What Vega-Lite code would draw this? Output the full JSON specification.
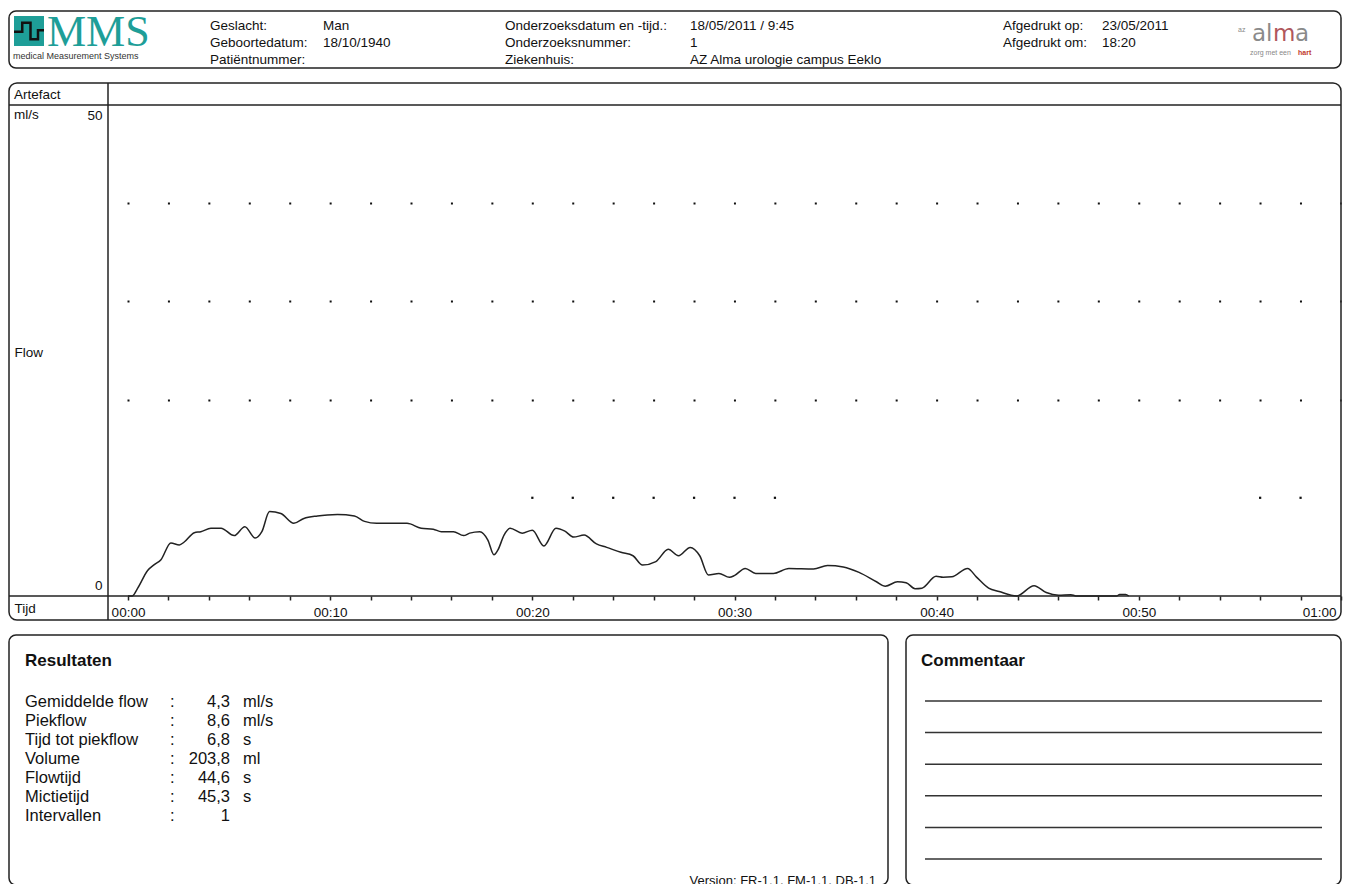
{
  "$schema": "https://vega.github.io/schema/vega-lite/v6.json",
  "padding": {"left": 7, "top": 10, "right": 0, "bottom": 0},
  "background": "white",
  "spacing": 12,
  "config": {
    "font": "Liberation Sans",
    "view": {"stroke": "#222", "strokeWidth": 1.5, "cornerRadius": 7},
    "axis": {"labelColor": "#111", "titleColor": "#111", "labelFontSize": 13.5, "titleFontSize": 13.5, "titleFontWeight": "normal"},
    "text": {"color": "#111"}
  },
  "datasets": {
    "hdr": [
      {"block": "pat", "line": 1, "label": "Geslacht:", "value": "Man"},
      {"block": "pat", "line": 2, "label": "Geboortedatum:", "value": "18/10/1940"},
      {"block": "pat", "line": 3, "label": "Patiëntnummer:", "value": ""},
      {"block": "exam", "line": 1, "label": "Onderzoeksdatum en -tijd.:", "value": "18/05/2011 / 9:45"},
      {"block": "exam", "line": 2, "label": "Onderzoeksnummer:", "value": "1"},
      {"block": "exam", "line": 3, "label": "Ziekenhuis:", "value": "AZ Alma urologie campus Eeklo"},
      {"block": "print", "line": 1, "label": "Afgedrukt op:", "value": "23/05/2011"},
      {"block": "print", "line": 2, "label": "Afgedrukt om:", "value": "18:20"}
    ],
    "flow": [
      {"t": 0, "f": 0}, {"t": 0.2, "f": 0}, {"t": 0.48, "f": 0.8}, {"t": 0.97, "f": 2.6}, {"t": 1.3, "f": 3.2},
      {"t": 1.63, "f": 3.7}, {"t": 2.12, "f": 5.4}, {"t": 2.54, "f": 5.2}, {"t": 2.78, "f": 5.5}, {"t": 3.28, "f": 6.45},
      {"t": 3.6, "f": 6.55}, {"t": 4.1, "f": 6.9}, {"t": 4.6, "f": 6.9}, {"t": 5.25, "f": 6.15}, {"t": 5.78, "f": 7.05},
      {"t": 6.29, "f": 5.9}, {"t": 6.62, "f": 6.55}, {"t": 7.0, "f": 8.6}, {"t": 7.56, "f": 8.4}, {"t": 8.2, "f": 7.4},
      {"t": 8.7, "f": 7.9}, {"t": 9.37, "f": 8.15}, {"t": 9.86, "f": 8.25}, {"t": 10.36, "f": 8.3}, {"t": 11.2, "f": 8.15},
      {"t": 11.7, "f": 7.6}, {"t": 12.3, "f": 7.4}, {"t": 13.8, "f": 7.4}, {"t": 14.5, "f": 6.9}, {"t": 15.1, "f": 6.8},
      {"t": 15.5, "f": 6.55}, {"t": 16.1, "f": 6.55}, {"t": 16.6, "f": 6.15}, {"t": 16.9, "f": 6.4}, {"t": 17.4, "f": 6.55},
      {"t": 17.8, "f": 5.7}, {"t": 18.1, "f": 4.2}, {"t": 18.3, "f": 4.7}, {"t": 18.6, "f": 6.2}, {"t": 18.9, "f": 6.9},
      {"t": 19.5, "f": 6.4}, {"t": 20.0, "f": 6.7}, {"t": 20.57, "f": 5.1}, {"t": 21.17, "f": 6.9}, {"t": 21.61, "f": 6.6},
      {"t": 22.04, "f": 6.0}, {"t": 22.56, "f": 6.2}, {"t": 23.17, "f": 5.3}, {"t": 23.68, "f": 4.95}, {"t": 24.38, "f": 4.45},
      {"t": 24.98, "f": 4.1}, {"t": 25.45, "f": 3.15}, {"t": 26.11, "f": 3.5}, {"t": 26.72, "f": 4.75}, {"t": 27.23, "f": 4.1},
      {"t": 27.81, "f": 4.95}, {"t": 28.28, "f": 4.1}, {"t": 28.71, "f": 2.15}, {"t": 29.23, "f": 2.3}, {"t": 29.75, "f": 1.9},
      {"t": 30.01, "f": 2.1}, {"t": 30.53, "f": 2.8}, {"t": 31.05, "f": 2.3}, {"t": 31.92, "f": 2.3}, {"t": 32.69, "f": 2.8},
      {"t": 33.91, "f": 2.75}, {"t": 34.6, "f": 3.1}, {"t": 35.38, "f": 2.95}, {"t": 36.16, "f": 2.4}, {"t": 37.02, "f": 1.45},
      {"t": 37.46, "f": 1.0}, {"t": 38.06, "f": 1.45}, {"t": 38.49, "f": 1.35}, {"t": 38.93, "f": 0.75}, {"t": 39.27, "f": 0.8},
      {"t": 39.97, "f": 2.0}, {"t": 40.32, "f": 1.9}, {"t": 40.75, "f": 1.95}, {"t": 41.53, "f": 2.8}, {"t": 41.96, "f": 1.95},
      {"t": 42.57, "f": 0.8}, {"t": 43.09, "f": 0.45}, {"t": 43.95, "f": 0.0}, {"t": 44.82, "f": 1.05}, {"t": 45.42, "f": 0.35},
      {"t": 46.03, "f": 0.08}, {"t": 46.64, "f": 0.14}, {"t": 46.89, "f": 0}, {"t": 48.9, "f": 0}, {"t": 49.05, "f": 0.15},
      {"t": 49.35, "f": 0.15}, {"t": 49.5, "f": 0}
    ],
    "dots10": [
      {"t": 20, "f": 10}, {"t": 22, "f": 10}, {"t": 24, "f": 10}, {"t": 26, "f": 10}, {"t": 28, "f": 10},
      {"t": 30, "f": 10}, {"t": 32, "f": 10}, {"t": 56, "f": 10}, {"t": 58, "f": 10}
    ],
    "res": [
      {"row": 1, "label": "Gemiddelde flow", "value": "4,3", "unit": "ml/s"},
      {"row": 2, "label": "Piekflow", "value": "8,6", "unit": "ml/s"},
      {"row": 3, "label": "Tijd tot piekflow", "value": "6,8", "unit": "s"},
      {"row": 4, "label": "Volume", "value": "203,8", "unit": "ml"},
      {"row": 5, "label": "Flowtijd", "value": "44,6", "unit": "s"},
      {"row": 6, "label": "Mictietijd", "value": "45,3", "unit": "s"},
      {"row": 7, "label": "Intervallen", "value": "1", "unit": ""}
    ],
    "lines": [{"line": 1}, {"line": 2}, {"line": 3}, {"line": 4}, {"line": 5}, {"line": 6}]
  },
  "vconcat": [
    {
      "width": 1332,
      "height": 57,
      "data": {"name": "hdr"},
      "layer": [
        {"transform": [{"filter": "datum.block === 'pat'"}], "mark": {"type": "text", "align": "left", "baseline": "middle", "fontSize": 13.5},
         "encoding": {"x": {"datum": 201, "type": "quantitative", "scale": {"domain": [0, 1332], "range": [0, 1332], "nice": false, "zero": false}, "axis": null},
                      "y": {"field": "line", "type": "quantitative", "scale": {"domain": [1, 3], "range": [15, 49], "nice": false, "zero": false}, "axis": null},
                      "text": {"field": "label"}}},
        {"transform": [{"filter": "datum.block === 'pat'"}], "mark": {"type": "text", "align": "left", "baseline": "middle", "fontSize": 13.5},
         "encoding": {"x": {"datum": 314, "type": "quantitative"}, "y": {"field": "line", "type": "quantitative"}, "text": {"field": "value"}}},
        {"transform": [{"filter": "datum.block === 'exam'"}], "mark": {"type": "text", "align": "left", "baseline": "middle", "fontSize": 13.5},
         "encoding": {"x": {"datum": 496, "type": "quantitative"}, "y": {"field": "line", "type": "quantitative"}, "text": {"field": "label"}}},
        {"transform": [{"filter": "datum.block === 'exam'"}], "mark": {"type": "text", "align": "left", "baseline": "middle", "fontSize": 13.5},
         "encoding": {"x": {"datum": 681, "type": "quantitative"}, "y": {"field": "line", "type": "quantitative"}, "text": {"field": "value"}}},
        {"transform": [{"filter": "datum.block === 'print'"}], "mark": {"type": "text", "align": "left", "baseline": "middle", "fontSize": 13.5},
         "encoding": {"x": {"datum": 994, "type": "quantitative"}, "y": {"field": "line", "type": "quantitative"}, "text": {"field": "label"}}},
        {"transform": [{"filter": "datum.block === 'print'"}], "mark": {"type": "text", "align": "left", "baseline": "middle", "fontSize": 13.5},
         "encoding": {"x": {"datum": 1093, "type": "quantitative"}, "y": {"field": "line", "type": "quantitative"}, "text": {"field": "value"}}},
        {"data": {"values": [{"brand": "MMS"}]}, "mark": {"type": "point", "shape": "square", "filled": true, "color": "#1e9e98", "opacity": 1, "size": 900},
         "encoding": {"x": {"datum": 20, "type": "quantitative"}, "y": {"datum": 1.294, "type": "quantitative"}}},
        {"data": {"values": [{"brand": "MMS"}]}, "mark": {"type": "point", "shape": "M-1,0.05L-0.45,0.05L-0.45,-0.55L0.1,-0.55L0.1,0.55L0.6,0.55L0.6,-0.05L1,-0.05", "filled": false, "color": "#111", "strokeWidth": 2.5, "opacity": 1, "size": 900},
         "encoding": {"x": {"datum": 20, "type": "quantitative"}, "y": {"datum": 1.294, "type": "quantitative"}}},
        {"data": {"values": [{"brand": "MMS"}]}, "mark": {"type": "text", "align": "left", "baseline": "alphabetic", "font": "Liberation Serif", "fontSize": 44, "color": "#1e9e98"},
         "encoding": {"x": {"datum": 38, "type": "quantitative"}, "y": {"datum": 2.176, "type": "quantitative"}, "text": {"field": "brand"}}},
        {"data": {"values": [{"sub": "medical Measurement Systems"}]}, "mark": {"type": "text", "align": "left", "baseline": "middle", "fontSize": 9, "color": "#333"},
         "encoding": {"x": {"datum": 4, "type": "quantitative"}, "y": {"datum": 2.765, "type": "quantitative"}, "text": {"field": "sub"}}},
        {"data": {"values": [{"w": "az"}]}, "mark": {"type": "text", "align": "left", "baseline": "middle", "fontSize": 7, "color": "#888"},
         "encoding": {"x": {"datum": 1229, "type": "quantitative"}, "y": {"datum": 1.235, "type": "quantitative"}, "text": {"field": "w"}}},
        {"data": {"values": [{"w": "al"}]}, "mark": {"type": "text", "align": "left", "baseline": "alphabetic", "font": "DejaVu Sans", "fontSize": 23, "color": "#8a8a8a"},
         "encoding": {"x": {"datum": 1243, "type": "quantitative"}, "y": {"datum": 1.882, "type": "quantitative"}, "text": {"field": "w"}}},
        {"data": {"values": [{"w": "m"}]}, "mark": {"type": "text", "align": "left", "baseline": "alphabetic", "font": "DejaVu Sans", "fontSize": 23, "color": "#b0575c"},
         "encoding": {"x": {"datum": 1264, "type": "quantitative"}, "y": {"datum": 1.882, "type": "quantitative"}, "text": {"field": "w"}}},
        {"data": {"values": [{"w": "a"}]}, "mark": {"type": "text", "align": "left", "baseline": "alphabetic", "font": "DejaVu Sans", "fontSize": 23, "color": "#8a8a8a"},
         "encoding": {"x": {"datum": 1286, "type": "quantitative"}, "y": {"datum": 1.882, "type": "quantitative"}, "text": {"field": "w"}}},
        {"data": {"values": [{"w": "zorg met een"}]}, "mark": {"type": "text", "align": "left", "baseline": "middle", "fontSize": 7, "color": "#888"},
         "encoding": {"x": {"datum": 1241, "type": "quantitative"}, "y": {"datum": 2.588, "type": "quantitative"}, "text": {"field": "w"}}},
        {"data": {"values": [{"w": "hart"}]}, "mark": {"type": "text", "align": "left", "baseline": "middle", "fontSize": 7, "fontWeight": "bold", "color": "#c0392b"},
         "encoding": {"x": {"datum": 1289, "type": "quantitative"}, "y": {"datum": 2.588, "type": "quantitative"}, "text": {"field": "w"}}}
      ]
    },
    {
      "width": 1332,
      "height": 537,
      "view": {"stroke": "#222", "strokeWidth": 1.5, "cornerRadius": 8},
      "layer": [
        {"data": {"name": "flow"}, "mark": {"type": "line", "color": "#222", "strokeWidth": 1.5, "interpolate": "monotone"},
         "encoding": {
           "x": {"field": "t", "type": "quantitative",
                 "scale": {"domain": [-0.99, 60], "range": [99, 1332], "nice": false, "zero": false},
                 "axis": {"orient": "bottom", "offset": -24, "domain": false,
                          "values": [0, 2, 4, 6, 8, 10, 12, 14, 16, 18, 20, 22, 24, 26, 28, 30, 32, 34, 36, 38, 40, 42, 44, 46, 48, 50, 52, 54, 56, 58, 60],
                          "labelExpr": "datum.value % 10 === 0 ? ((datum.value >= 60 ? '01' : '00') + ':' + (datum.value % 60 === 0 ? '00' : datum.value % 60)) : ''",
                          "labelFlush": true, "labelFlushOffset": -5, "labelOverlap": false, "tickSize": 4, "tickColor": "#222", "tickWidth": 1.5, "labelPadding": 5,
                          "grid": false, "title": "Tijd", "titleX": 5, "titleY": 12, "titleAlign": "left", "titleBaseline": "middle", "titleAngle": 0}},
           "y": {"field": "f", "type": "quantitative",
                 "scale": {"domain": [0, 50], "range": [513, 22], "nice": false, "zero": false},
                 "axis": {"orient": "left", "offset": -99, "domain": false, "ticks": false,
                          "values": [0, 20, 30, 40, 50],
                          "labelExpr": "datum.value === 0 || datum.value === 50 ? datum.label : ''",
                          "labelFlush": true, "labelFlushOffset": -3.5, "labelOverlap": false, "labelPadding": 6,
                          "grid": true, "gridColor": "#111", "gridWidth": 2, "gridDash": [2, 38.43], "gridDashOffset": 21.43,
                          "gridOpacity": {"condition": {"test": "datum.value === 0 || datum.value === 50", "value": 0}, "value": 1},
                          "title": "Flow", "titleAngle": 0, "titleX": -94, "titleY": 269, "titleAlign": "left", "titleBaseline": "middle"}}
         }},
        {"data": {"name": "dots10"}, "mark": {"type": "square", "color": "#111", "size": 5, "opacity": 1},
         "encoding": {"x": {"field": "t", "type": "quantitative"}, "y": {"field": "f", "type": "quantitative"}}},
        {"data": {"values": [{"sep": "left"}]}, "mark": {"type": "rule", "color": "#222", "strokeWidth": 1.5},
         "encoding": {"x": {"datum": -0.99, "type": "quantitative"}}},
        {"data": {"values": [{"sep": "bottom"}]}, "mark": {"type": "rule", "color": "#222", "strokeWidth": 1.5},
         "encoding": {"y": {"datum": 0, "type": "quantitative"}}},
        {"data": {"values": [{"sep": "top"}]}, "mark": {"type": "rule", "color": "#222", "strokeWidth": 1.5},
         "encoding": {"y": {"datum": 50, "type": "quantitative"}}},
        {"data": {"values": [{"lab": "Artefact"}]}, "mark": {"type": "text", "align": "left", "baseline": "middle", "fontSize": 13.5},
         "encoding": {"x": {"datum": -5.64, "type": "quantitative"}, "y": {"datum": 51.02, "type": "quantitative"}, "text": {"field": "lab"}}},
        {"data": {"values": [{"lab": "ml/s"}]}, "mark": {"type": "text", "align": "left", "baseline": "middle", "fontSize": 13.5},
         "encoding": {"x": {"datum": -5.64, "type": "quantitative"}, "y": {"datum": 48.98, "type": "quantitative"}, "text": {"field": "lab"}}}
      ]
    },
    {
      "spacing": 16,
      "hconcat": [
        {
          "width": 879,
          "height": 250,
          "data": {"name": "res"},
          "layer": [
            {"mark": {"type": "text", "align": "left", "baseline": "middle", "fontSize": 16.5},
             "encoding": {"x": {"datum": 16, "type": "quantitative", "scale": {"domain": [0, 879], "range": [0, 879], "nice": false, "zero": false}, "axis": null},
                          "y": {"field": "row", "type": "quantitative", "scale": {"domain": [1, 7], "range": [67, 181], "nice": false, "zero": false}, "axis": null},
                          "text": {"field": "label"}}},
            {"mark": {"type": "text", "align": "left", "baseline": "middle", "fontSize": 16.5},
             "encoding": {"x": {"datum": 161, "type": "quantitative"}, "y": {"field": "row", "type": "quantitative"}, "text": {"value": ":"}}},
            {"mark": {"type": "text", "align": "right", "baseline": "middle", "fontSize": 16.5},
             "encoding": {"x": {"datum": 221, "type": "quantitative"}, "y": {"field": "row", "type": "quantitative"}, "text": {"field": "value"}}},
            {"mark": {"type": "text", "align": "left", "baseline": "middle", "fontSize": 16.5},
             "encoding": {"x": {"datum": 234, "type": "quantitative"}, "y": {"field": "row", "type": "quantitative"}, "text": {"field": "unit"}}},
            {"data": {"values": [{"h": "Resultaten"}]}, "mark": {"type": "text", "align": "left", "baseline": "middle", "fontSize": 17, "fontWeight": "bold"},
             "encoding": {"x": {"datum": 16, "type": "quantitative"}, "y": {"datum": -1.158, "type": "quantitative"}, "text": {"field": "h"}}},
            {"data": {"values": [{"v": "Version: FR-1.1, FM-1.1, DB-1.1"}]}, "mark": {"type": "text", "align": "right", "baseline": "middle", "fontSize": 13},
             "encoding": {"x": {"datum": 867, "type": "quantitative"}, "y": {"datum": 10.42, "type": "quantitative"}, "text": {"field": "v"}}}
          ]
        },
        {
          "width": 435,
          "height": 250,
          "data": {"name": "lines"},
          "layer": [
            {"mark": {"type": "rule", "color": "#333", "strokeWidth": 1.5},
             "encoding": {"y": {"field": "line", "type": "quantitative", "scale": {"domain": [1, 6], "range": [66, 224], "nice": false, "zero": false}, "axis": null},
                          "x": {"datum": 0, "type": "quantitative", "scale": {"domain": [0, 1], "range": [19, 416], "nice": false, "zero": false}, "axis": null},
                          "x2": {"datum": 1}}},
            {"data": {"values": [{"h": "Commentaar"}]}, "mark": {"type": "text", "align": "left", "baseline": "middle", "fontSize": 17, "fontWeight": "bold"},
             "encoding": {"x": {"datum": -0.0101, "type": "quantitative"}, "y": {"datum": -0.266, "type": "quantitative"}, "text": {"field": "h"}}}
          ]
        }
      ]
    }
  ]
}
